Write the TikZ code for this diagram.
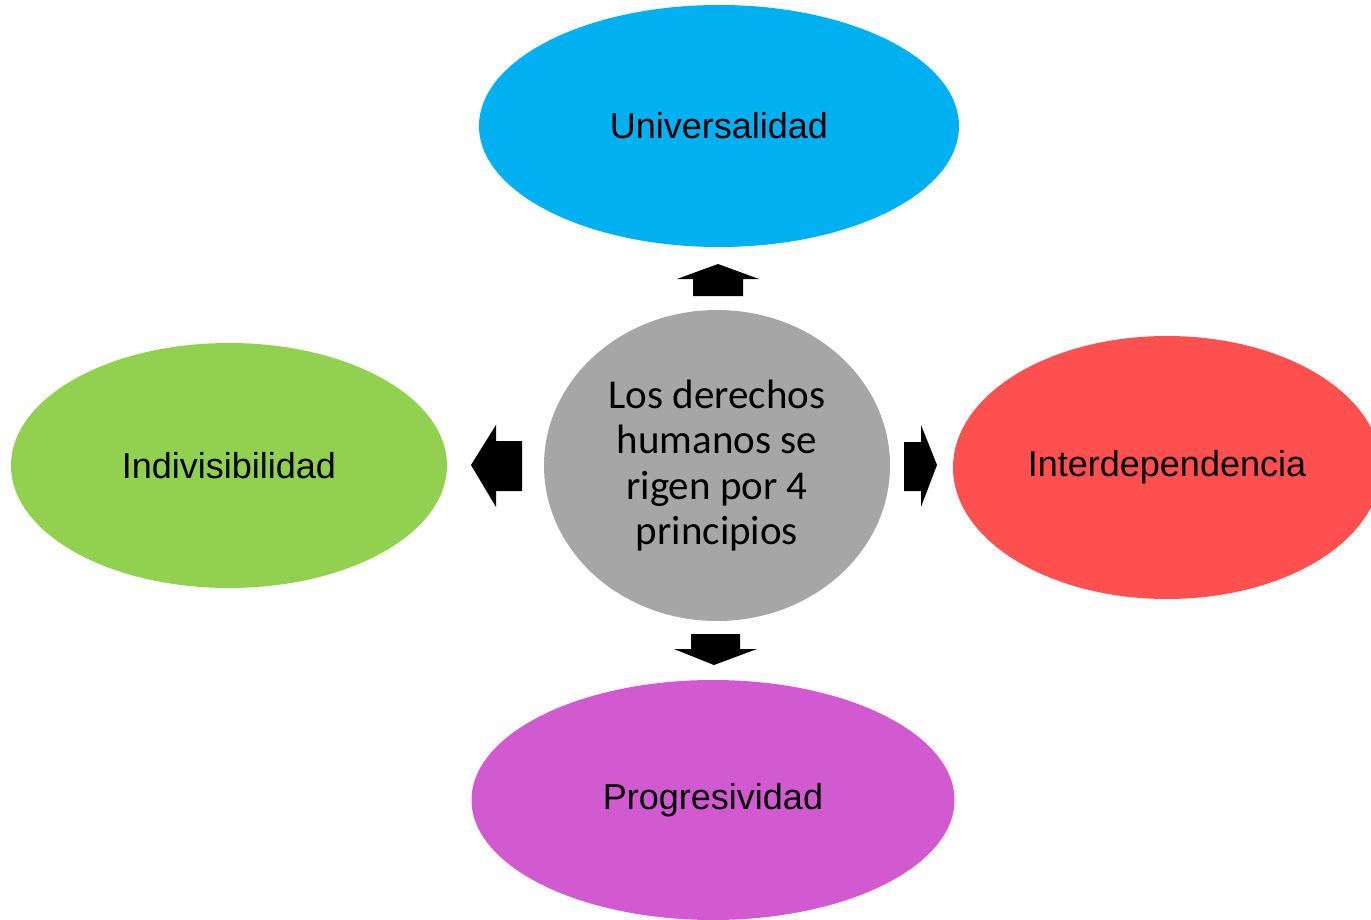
\documentclass[tikz,border=0pt]{standalone}
\usepackage{fontspec}
\setmainfont{Liberation Sans}
\newfontfamily\calib{Carlito}
\usetikzlibrary{shapes.geometric}
\definecolor{cblue}{HTML}{00B0F0}
\definecolor{cgreen}{HTML}{92D050}
\definecolor{cred}{HTML}{FF5050}
\definecolor{cpurple}{HTML}{D25AD0}
\definecolor{cgray}{HTML}{A6A6A6}
\tikzset{
  oval/.style={ellipse, inner sep=0pt, draw=none, font=\fontsize{36}{40}\selectfont},
  blockarrow/.style={fill=black, draw=none}
}
\begin{document}
\begin{tikzpicture}[x=1pt,y=-1pt]
\useasboundingbox (0,0) rectangle (1371,920);
\clip (0,0) rectangle (1371,920);
\node[oval, fill=cblue, minimum width=480, minimum height=242] (uni) at (719,126) {Universalidad};
\node[oval, fill=cgreen, minimum width=436, minimum height=245] (ind) at (229,465.5) {Indivisibilidad};
\node[oval, fill=cred, minimum width=428, minimum height=263] (int) at (1167,467.5) {Interdependencia};
\node[oval, fill=cpurple, minimum width=483, minimum height=240] (pro) at (713,800) {Progresividad};
\node[ellipse, inner sep=0pt, fill=cgray, minimum width=346, minimum height=311, align=center,
  font=\calib\fontsize{41}{45.5}\selectfont] (ctr) at (717,465.5) {Los derechos\\humanos se\\rigen por 4\\principios};
% up arrow
\fill[blockarrow] (693,296) -- (693,279) -- (677,279) -- (718,264) -- (759,279) -- (743,279) -- (743,296) -- cycle;
% left arrow
\fill[blockarrow] (522,441) -- (496,441) -- (496,425) -- (471,465) -- (496,507) -- (496,491) -- (522,491) -- cycle;
% right arrow
\fill[blockarrow] (904,442) -- (921,442) -- (921,425) -- (937,465) -- (921,507) -- (921,491) -- (904,491) -- cycle;
% down arrow
\fill[blockarrow] (691,634) -- (740,634) -- (740,649) -- (757,649) -- (714,665) -- (674,649) -- (691,649) -- cycle;
\end{tikzpicture}
\end{document}
